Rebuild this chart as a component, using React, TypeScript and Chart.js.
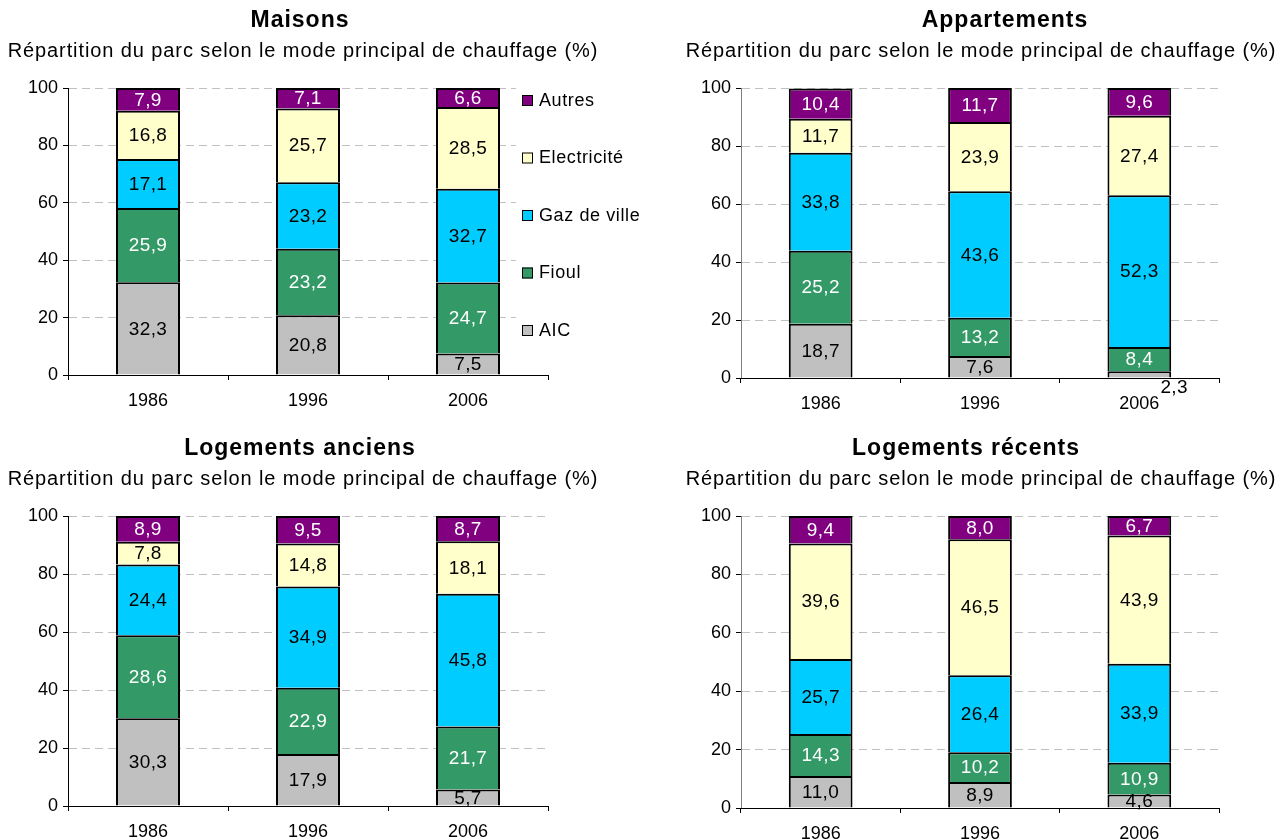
import React, { useEffect, useRef } from 'react';
import { Chart, registerables } from 'chart.js';

Chart.register(...registerables);

// ---------- data ----------
const years = ['1986', '1996', '2006'];
const seriesNames = ['AIC', 'Fioul', 'Gaz de ville', 'Electricité', 'Autres'];
const seriesColors = ['#C0C0C0', '#339966', '#00CCFF', '#FFFFCC', '#800080'];
const labelColors = ['#000000', '#FFFFFF', '#000000', '#000000', '#FFFFFF'];
const yTickStep = 20;
const yMax = 100;

const maisonsAIC = [32.3, 20.8, 7.5];
const maisonsFioul = [25.9, 23.2, 24.7];
const maisonsGaz = [17.1, 23.2, 32.7];
const maisonsElec = [16.8, 25.7, 28.5];
const maisonsAutres = [7.9, 7.1, 6.6];

const appartAIC = [18.7, 7.6, 2.3];
const appartFioul = [25.2, 13.2, 8.4];
const appartGaz = [33.8, 43.6, 52.3];
const appartElec = [11.7, 23.9, 27.4];
const appartAutres = [10.4, 11.7, 9.6];

const anciensAIC = [30.3, 17.9, 5.7];
const anciensFioul = [28.6, 22.9, 21.7];
const anciensGaz = [24.4, 34.9, 45.8];
const anciensElec = [7.8, 14.8, 18.1];
const anciensAutres = [8.9, 9.5, 8.7];

const recentsAIC = [11.0, 8.9, 4.6];
const recentsFioul = [14.3, 10.2, 10.9];
const recentsGaz = [25.7, 26.4, 33.9];
const recentsElec = [39.6, 46.5, 43.9];
const recentsAutres = [9.4, 8.0, 6.7];

const subtitleText = 'Répartition du parc selon le mode principal de chauffage (%)';

// ---------- layout / style ----------
const FONT = '"Liberation Sans", Arial, Helvetica, sans-serif';
Chart.defaults.font.family = FONT;
Chart.defaults.color = '#000';

const fmt = (v: number) => v.toFixed(1).replace('.', ',');

type PanelCfg = {
  title: string;
  series: number[][];
  left: number;
  top: number;
  width: number;
  height: number;
  area: { left: number; right: number; top: number; bottom: number };
  titleX: number;
  titleY: number;
  subX: number;
  subY: number;
  yBorder: string;
  legend: boolean;
};

const panels: PanelCfg[] = [
  {
    title: 'Maisons',
    series: [maisonsAIC, maisonsFioul, maisonsGaz, maisonsElec, maisonsAutres],
    left: 0, top: 0, width: 640, height: 420,
    area: { left: 68, right: 548, top: 88, bottom: 375 },
    titleX: 300, titleY: 27, subX: 303, subY: 57,
    yBorder: '#000', legend: true,
  },
  {
    title: 'Appartements',
    series: [appartAIC, appartFioul, appartGaz, appartElec, appartAutres],
    left: 640, top: 0, width: 647, height: 420,
    area: { left: 101, right: 579, top: 88, bottom: 378 },
    titleX: 365, titleY: 27, subX: 341, subY: 57,
    yBorder: '#7f7f7f', legend: false,
  },
  {
    title: 'Logements anciens',
    series: [anciensAIC, anciensFioul, anciensGaz, anciensElec, anciensAutres],
    left: 0, top: 420, width: 640, height: 420,
    area: { left: 68, right: 548, top: 96, bottom: 386 },
    titleX: 300, titleY: 35, subX: 303, subY: 65,
    yBorder: '#000', legend: false,
  },
  {
    title: 'Logements récents',
    series: [recentsAIC, recentsFioul, recentsGaz, recentsElec, recentsAutres],
    left: 640, top: 420, width: 647, height: 420,
    area: { left: 101, right: 579, top: 96, bottom: 388 },
    titleX: 326, titleY: 35, subX: 341, subY: 65,
    yBorder: '#7f7f7f', legend: false,
  },
];

function makePlugins(p: PanelCfg) {
  const headings = {
    id: 'headings',
    afterDraw(chart: any) {
      const ctx = chart.ctx;
      ctx.save();
      ctx.fillStyle = '#000';
      ctx.textAlign = 'center';
      ctx.textBaseline = 'alphabetic';
      ctx.font = `bold 23px ${FONT}`;
      (ctx as any).letterSpacing = '1px';
      ctx.fillText(p.title, p.titleX, p.titleY);
      ctx.font = `20px ${FONT}`;
      (ctx as any).letterSpacing = '0.9px';
      ctx.fillText(subtitleText, p.subX, p.subY);
      ctx.restore();
    },
  };
  const dataLabels = {
    id: 'dataLabels',
    afterDatasetsDraw(chart: any) {
      const ctx = chart.ctx;
      chart.data.datasets.forEach((ds: any, di: number) => {
        const meta = chart.getDatasetMeta(di);
        meta.data.forEach((el: any, i: number) => {
          const v = ds.data[i] as number;
          const { x, y, base, width } = el.getProps(['x', 'y', 'base', 'width'], true);
          ctx.save();
          ctx.font = `19px ${FONT}`;
          (ctx as any).letterSpacing = '0.4px';
          ctx.textAlign = 'center';
          ctx.textBaseline = 'middle';
          if (v < 3) {
            ctx.fillStyle = '#000';
            ctx.fillText(fmt(v), x + width / 2 + 3, base + 10);
          } else {
            ctx.fillStyle = labelColors[di];
            ctx.fillText(fmt(v), x, (y + base) / 2 + 1);
          }
          ctx.restore();
        });
      });
    },
  };
  const sideLegend = {
    id: 'sideLegend',
    afterDraw(chart: any) {
      if (!p.legend) return;
      const ctx = chart.ctx;
      const area = chart.chartArea;
      ctx.save();
      ctx.fillStyle = '#fff';
      ctx.fillRect(area.right - 32, area.top - 6, chart.width - area.right + 32, area.bottom - area.top - 4);
      const n = seriesNames.length;
      for (let k = 0; k < n; k++) {
        const si = n - 1 - k;
        const cy = area.top + 12 + k * 57.5;
        const bx = area.right - 26;
        ctx.fillStyle = seriesColors[si];
        ctx.fillRect(bx, cy - 5, 11, 11);
        ctx.strokeStyle = '#000';
        ctx.lineWidth = 1;
        ctx.strokeRect(bx + 0.5, cy - 4.5, 10, 10);
        ctx.fillStyle = '#000';
        ctx.font = `18px ${FONT}`;
        (ctx as any).letterSpacing = '0.6px';
        ctx.textAlign = 'left';
        ctx.textBaseline = 'middle';
        ctx.fillText(seriesNames[si], bx + 17, cy + 1);
      }
      ctx.restore();
    },
  };
  return [headings, dataLabels, sideLegend];
}

function PanelChart({ p }: { p: PanelCfg }) {
  const ref = useRef<HTMLCanvasElement | null>(null);
  useEffect(() => {
    if (!ref.current) return;
    const xHeight = p.height - p.area.bottom;
    const chart = new Chart(ref.current, {
      type: 'bar',
      data: {
        labels: years,
        datasets: seriesNames.map((name, si) => ({
          label: name,
          data: p.series[si],
          backgroundColor: seriesColors[si],
          borderColor: '#000',
          borderWidth: 2,
          borderSkipped: 'start',
          barPercentage: 0.4,
          categoryPercentage: 1.0,
          stack: 'all',
        })),
      },
      options: {
        responsive: false,
        animation: false,
        devicePixelRatio: 1,
        layout: { padding: { top: p.area.top, left: 0, right: p.width - p.area.right, bottom: 0 } },
        plugins: {
          legend: { display: false },
          tooltip: { enabled: false },
          title: { display: false },
        },
        scales: {
          x: {
            stacked: true,
            offset: true,
            grid: {
              offset: true,
              drawOnChartArea: false,
              drawTicks: true,
              tickLength: 5,
              tickColor: '#000',
              tickWidth: 1,
            },
            border: { display: true, color: '#000', width: 1, z: 1 },
            ticks: { font: { size: 18, family: FONT }, color: '#000', padding: 10, maxRotation: 0, autoSkip: false },
            afterFit: (s: any) => { s.height = xHeight; },
          },
          y: {
            stacked: true,
            min: 0,
            max: yMax,
            ticks: { stepSize: yTickStep, font: { size: 18, family: FONT }, color: '#000', padding: 5 },
            grid: {
              color: (c: any) => (c.tick && c.tick.value === 0 ? 'rgba(0,0,0,0)' : '#c0c0c0'),
              lineWidth: 1,
              drawTicks: true,
              tickLength: 5,
              tickColor: '#000',
              tickWidth: 1,
            },
            border: { display: true, color: p.yBorder, width: 1, dash: [8, 5] },
            afterFit: (s: any) => { s.width = p.area.left; },
          },
        },
      } as any,
      plugins: makePlugins(p) as any,
    });
    return () => chart.destroy();
  }, []);
  return (
    <canvas
      ref={ref}
      width={p.width}
      height={p.height}
      style={{ position: 'absolute', left: p.left, top: p.top, width: p.width, height: p.height, display: 'block' }}
    />
  );
}

export default function App() {
  return (
    <div style={{ position: 'fixed', left: 0, top: 0, width: 1287, height: 840, background: '#fff', overflow: 'hidden' }}>
      {panels.map((p) => (
        <PanelChart key={p.title} p={p} />
      ))}
    </div>
  );
}
